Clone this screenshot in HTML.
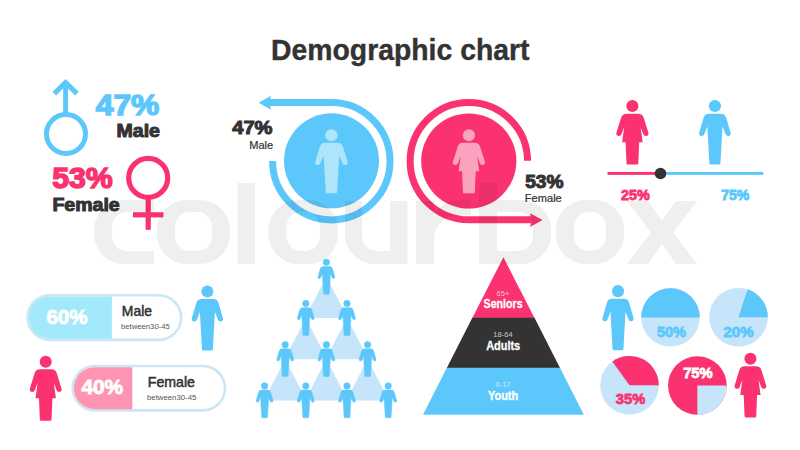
<!DOCTYPE html>
<html>
<head>
<meta charset="utf-8">
<title>Demographic chart</title>
<style>
html,body{margin:0;padding:0;background:#fff;}
body{width:800px;height:450px;overflow:hidden;font-family:"Liberation Sans",sans-serif;}
svg{display:block;}
text{font-family:"Liberation Sans",sans-serif;}
.b{font-weight:bold;}
</style>
</head>
<body>
<svg width="800" height="450" viewBox="0 0 800 450">
<defs>
  <g id="man">
    <circle cx="0" cy="6.2" r="6.1"/>
    <path d="M -6,13.9 Q -10.2,13.9 -11.4,18.4 L -15.7,33.4 Q -16.3,36 -13.9,36.6 Q -11.5,37 -10.6,34.8 L -7.6,27 L -5.5,64.6 Q -5.4,65.8 -4.2,65.8 L 4.2,65.8 Q 5.4,65.8 5.5,64.6 L 7.6,27 L 10.6,34.8 Q 11.5,37 13.9,36.6 Q 16.3,36 15.7,33.4 L 11.4,18.4 Q 10.2,13.9 6,13.9 Z"/>
  </g>
  <g id="woman">
    <circle cx="0" cy="6.2" r="6.1"/>
    <path d="M -5.5,13.9 Q -10.2,13.9 -11.4,18.4 L -16,33.4 Q -16.6,36 -14.2,36.6 Q -11.8,37 -10.9,34.8 L -8.2,27.5 L -10.3,43 L -6.8,43 L -5.9,64.6 Q -5.8,65.8 -4.6,65.8 L 4.6,65.8 Q 5.8,65.8 5.9,64.6 L 6.8,43 L 10.3,43 L 8.2,27.5 L 10.9,34.8 Q 11.8,37 14.2,36.6 Q 16.6,36 16,33.4 L 11.4,18.4 Q 10.2,13.9 5.5,13.9 Z"/>
  </g>
</defs>
<rect width="800" height="450" fill="#ffffff"/>

<!-- title -->
<text class="b" x="271" y="59.8" font-size="30" fill="#333333" stroke="#333333" stroke-width="0.4" textLength="258.5" lengthAdjust="spacingAndGlyphs">Demographic chart</text>

<!-- top-left gender symbols -->
<g fill="none" stroke="#5cc7fb" stroke-width="5">
  <circle cx="66" cy="134" r="19.5"/>
  <path d="M65.6,115 L65.6,83"/>
  <path d="M54.3,93.6 L65.6,82.4 L76.9,93.6" stroke-linejoin="miter"/>
</g>
<text class="b" x="95.8" y="115" font-size="30" fill="#5cc7fb" stroke="#5cc7fb" stroke-width="1.5" textLength="63.5" lengthAdjust="spacingAndGlyphs">47%</text>
<text class="b" x="116.5" y="137.3" font-size="18.5" fill="#333333" stroke="#333333" stroke-width="1" textLength="43.5" lengthAdjust="spacingAndGlyphs">Male</text>

<g fill="none" stroke="#fa3370" stroke-width="5.2">
  <circle cx="148.2" cy="177.9" r="19.5"/>
  <path d="M148.2,197 L148.2,229.8"/>
  <path d="M133,214.8 L163.4,214.8"/>
</g>
<text class="b" x="52.2" y="188.3" font-size="30" fill="#fa3370" stroke="#fa3370" stroke-width="1.5" textLength="60.6" lengthAdjust="spacingAndGlyphs">53%</text>
<text class="b" x="52.4" y="211.3" font-size="18.5" fill="#333333" stroke="#333333" stroke-width="1" textLength="67.3" lengthAdjust="spacingAndGlyphs">Female</text>

<!-- blue circular arrow -->
<circle cx="331.5" cy="160.8" r="47.5" fill="#5cc7fb"/>
<path d="M272.6,161 A58.7,58.7 0 1 0 331.3,102.5 L268,102.5" fill="none" stroke="#5cc7fb" stroke-width="7"/>
<path d="M258.6,102.7 L271,95.8 L269.3,102.7 L271,109.7 Z" fill="#5cc7fb"/>
<use href="#man" transform="translate(331.4,129.2) scale(1.03,0.975)" fill="#ade5fb"/>
<text class="b" x="232.2" y="134" font-size="18" fill="#333333" stroke="#333333" stroke-width="1" textLength="40.3" lengthAdjust="spacingAndGlyphs">47%</text>
<text x="249.2" y="148.6" font-size="10.7" fill="#333333" stroke="#333333" stroke-width="0.2" textLength="24" lengthAdjust="spacingAndGlyphs">Male</text>

<!-- pink circular arrow -->
<circle cx="468.8" cy="161" r="47.6" fill="#fa3370"/>
<path d="M527.55,160.8 A58.7,58.7 0 1 0 468.85,219.8 L532,219.8" fill="none" stroke="#fa3370" stroke-width="7"/>
<path d="M542.6,220 L530,213.2 L531.7,220 L530,227 Z" fill="#fa3370"/>
<use href="#woman" transform="translate(468.9,129.2) scale(1.0,0.975)" fill="#faa3be"/>
<text class="b" x="525.2" y="188" font-size="18" fill="#333333" stroke="#333333" stroke-width="1" textLength="38.3" lengthAdjust="spacingAndGlyphs">53%</text>
<text x="524.8" y="202.4" font-size="10.7" fill="#333333" stroke="#333333" stroke-width="0.2" textLength="37" lengthAdjust="spacingAndGlyphs">Female</text>

<!-- slider -->
<use href="#woman" transform="translate(632.4,100) scale(1,0.982)" fill="#fa3370"/>
<use href="#man" transform="translate(714.9,100) scale(1,0.982)" fill="#5cc7fb"/>
<rect x="607.5" y="171.95" width="53" height="2.9" fill="#fa3370"/>
<rect x="660" y="171.95" width="103.3" height="2.9" fill="#5cc7fb"/>
<circle cx="660.5" cy="173.5" r="5.8" fill="#333333"/>
<text class="b" x="621" y="199.7" font-size="14.3" fill="#fa3370" stroke="#fa3370" stroke-width="0.9" textLength="28.6" lengthAdjust="spacingAndGlyphs">25%</text>
<text class="b" x="721.2" y="199.7" font-size="14.3" fill="#5cc7fb" stroke="#5cc7fb" stroke-width="0.9" textLength="28.2" lengthAdjust="spacingAndGlyphs">75%</text>

<!-- pills -->
<g>
  <rect x="27.7" y="295.2" width="153.4" height="44.7" rx="22.3" fill="#ffffff" stroke="#cde6f6" stroke-width="2.6"/>
  <path d="M50,296.4 L111.9,296.4 L111.9,338.7 L50,338.7 A21.15,21.15 0 0 1 50,296.4 Z" fill="#a2e9fb"/>
  <text class="b" x="46.4" y="324.3" font-size="19.5" fill="#ffffff" stroke="#ffffff" stroke-width="0.8" textLength="41.2" lengthAdjust="spacingAndGlyphs">60%</text>
  <text x="121.8" y="316.3" font-size="14.2" fill="#333333" stroke="#333333" stroke-width="0.5" textLength="30.2" lengthAdjust="spacingAndGlyphs">Male</text>
  <text x="121" y="328.8" font-size="7.5" fill="#555" textLength="48.8" lengthAdjust="spacingAndGlyphs">between30-45</text>
</g>
<use href="#man" transform="translate(207.4,285.3) scale(0.99)" fill="#5cc7fb"/>

<g>
  <rect x="72.7" y="366" width="152.3" height="44.4" rx="22.2" fill="#ffffff" stroke="#cde6f6" stroke-width="2.6"/>
  <path d="M94.9,367.2 L132.3,367.2 L132.3,409.2 L94.9,409.2 A21,21 0 0 1 94.9,367.2 Z" fill="#fe94b2"/>
  <text class="b" x="81.4" y="394.2" font-size="19.5" fill="#ffffff" stroke="#ffffff" stroke-width="0.8" textLength="41.8" lengthAdjust="spacingAndGlyphs">40%</text>
  <text x="147.8" y="386.6" font-size="14.2" fill="#333333" stroke="#333333" stroke-width="0.5" textLength="47.2" lengthAdjust="spacingAndGlyphs">Female</text>
  <text x="147" y="399.5" font-size="7.5" fill="#555" textLength="49.3" lengthAdjust="spacingAndGlyphs">between30-45</text>
</g>
<use href="#woman" transform="translate(45.7,355.6) scale(0.99)" fill="#fa3370"/>

<!-- people pyramid -->
<g fill="#c6e4fa">
  <path d="M326.4,276.8 L305.0,318.0 L347.8,318.0 Z"/>
  <path d="M305.8,318.0 L284.4,359.2 L327.2,359.2 Z"/>
  <path d="M347.0,318.0 L325.6,359.2 L368.4,359.2 Z"/>
  <path d="M285.2,359.2 L263.8,400.4 L306.6,400.4 Z"/>
  <path d="M326.4,359.2 L305.0,400.4 L347.8,400.4 Z"/>
  <path d="M367.6,359.2 L346.2,400.4 L389.0,400.4 Z"/>
</g>
<g fill="#5cc7fb" stroke="#5cc7fb" stroke-width="0.9">
  <use href="#man" transform="translate(326.4,259) scale(0.535)"/>
  <use href="#man" transform="translate(305.8,300.2) scale(0.535)"/>
  <use href="#man" transform="translate(347,300.2) scale(0.535)"/>
  <use href="#man" transform="translate(285.2,341.4) scale(0.535)"/>
  <use href="#man" transform="translate(326.4,341.4) scale(0.535)"/>
  <use href="#man" transform="translate(367.6,341.4) scale(0.535)"/>
  <use href="#man" transform="translate(264.6,382.6) scale(0.535)"/>
  <use href="#man" transform="translate(305.8,382.6) scale(0.535)"/>
  <use href="#man" transform="translate(347,382.6) scale(0.535)"/>
  <use href="#man" transform="translate(388.2,382.6) scale(0.535)"/>
</g>

<!-- age pyramid -->
<g>
  <path d="M503.4,257.2 L472.3,318.1 L534.5,318.1 Z" fill="#fa3370"/>
  <path d="M472.3,317.8 L534.5,317.8 L560.0,368.1 L446.8,368.1 Z" fill="#333333"/>
  <path d="M446.8,367.8 L560.0,367.8 L583.8,414.7 L423.0,414.7 Z" fill="#5cc7fb"/>
  <text x="503" y="296.2" font-size="7.6" fill="#fbc0d2" text-anchor="middle">65+</text>
  <text class="b" x="483.6" y="308.3" font-size="12.3" fill="#ffffff" stroke="#ffffff" stroke-width="0.3" textLength="39" lengthAdjust="spacingAndGlyphs">Seniors</text>
  <text x="503" y="336.5" font-size="7.6" fill="#c8c8c8" text-anchor="middle">18-64</text>
  <text class="b" x="486.2" y="349.5" font-size="12.3" fill="#ffffff" stroke="#ffffff" stroke-width="0.3" textLength="34" lengthAdjust="spacingAndGlyphs">Adults</text>
  <text x="503" y="386.5" font-size="7.6" fill="#c9ecfc" text-anchor="middle">0-17</text>
  <text class="b" x="488.1" y="399.5" font-size="12.3" fill="#ffffff" stroke="#ffffff" stroke-width="0.3" textLength="30" lengthAdjust="spacingAndGlyphs">Youth</text>
</g>

<!-- pies -->
<use href="#man" transform="translate(618,285) scale(0.99)" fill="#5cc7fb"/>
<g>
  <circle cx="670.5" cy="317.2" r="29.3" fill="#c6e4fa"/>
  <path d="M641.2,317.5 A29.3,29.3 0 0 1 699.8,317.5 Z" fill="#5cc7fb"/>
  <text class="b" x="657" y="337" font-size="14.3" fill="#5cc7fb" stroke="#5cc7fb" stroke-width="0.8" textLength="29" lengthAdjust="spacingAndGlyphs">50%</text>
</g>
<g>
  <circle cx="738.5" cy="317.2" r="29.3" fill="#c6e4fa"/>
  <path d="M738.5,317.2 L767.8,317.2 A29.3,29.3 0 0 0 747.6,289.3 Z" fill="#5cc7fb"/>
  <text class="b" x="723.5" y="337" font-size="14.3" fill="#5cc7fb" stroke="#5cc7fb" stroke-width="0.8" textLength="30" lengthAdjust="spacingAndGlyphs">20%</text>
</g>
<g>
  <circle cx="629.5" cy="385.2" r="29.3" fill="#c6e4fa"/>
  <path d="M629.5,385.2 L658.8,385.2 A29.3,29.3 0 0 0 612.3,361.5 Z" fill="#fa3370"/>
  <text class="b" x="615.8" y="404.3" font-size="14.3" fill="#fa3370" stroke="#fa3370" stroke-width="0.8" textLength="29.4" lengthAdjust="spacingAndGlyphs">35%</text>
</g>
<g>
  <circle cx="697.4" cy="385.5" r="29.35" fill="#fa3370"/>
  <path d="M697.4,385.5 L726.8,385.5 A29.35,29.35 0 0 1 697.4,414.9 Z" fill="#c6e4fa"/>
  <text class="b" x="683.2" y="377.7" font-size="14.3" fill="#ffffff" stroke="#ffffff" stroke-width="0.8" textLength="29.4" lengthAdjust="spacingAndGlyphs">75%</text>
</g>
<use href="#woman" transform="translate(750.4,352.6) scale(0.985)" fill="#fa3370"/>

<!-- watermark -->
<g id="wm" fill="#000000" opacity="0.058">
  <path d="M154,200 L124,200 A30,30 0 0 0 94,230 L94,234 A30,30 0 0 0 124,264 L154,264 L154,251 L126,251 A14,15 0 0 1 112,236 L112,227 A14,15 0 0 1 126,212 L154,212 Z"/>
  <path fill-rule="evenodd" d="M187.0,200 L200.0,200 A30,30 0 0 1 230.0,230 L230.0,234 A30,30 0 0 1 200.0,264 L187.0,264 A30,30 0 0 1 157.0,234 L157.0,230 A30,30 0 0 1 187.0,200 Z M189.0,212 L198.0,212 A14,15 0 0 1 212.0,227 L212.0,236 A14,15 0 0 1 198.0,251 L189.0,251 A14,15 0 0 1 175.0,236 L175.0,227 A14,15 0 0 1 189.0,212 Z"/>
  <rect x="237.5" y="183" width="17.5" height="81"/>
  <path fill-rule="evenodd" d="M298.5,200 L308.0,200 A30,30 0 0 1 338.0,230 L338.0,234 A30,30 0 0 1 308.0,264 L298.5,264 A30,30 0 0 1 268.5,234 L268.5,230 A30,30 0 0 1 298.5,200 Z M300.5,212 L306.0,212 A14,15 0 0 1 320.0,227 L320.0,236 A14,15 0 0 1 306.0,251 L300.5,251 A14,15 0 0 1 286.5,236 L286.5,227 A14,15 0 0 1 300.5,212 Z"/>
  <path d="M345,201 L362,201 L362,236 A14,15 0 0 0 376,251 L390,251 L390,201 L407.5,201 L407.5,264 L375,264 A30,30 0 0 1 345,234 Z"/>
  <path d="M416,201 L434,201 L434,218 A24,22 0 0 1 456,200.5 L471,200.5 L471,215 L458,215 A24,24 0 0 0 434,239 L434,264 L416,264 Z"/>
  <path fill-rule="evenodd" d="M479,183 L497,183 L497,200 L521,200 A30,30 0 0 1 551,230 L551,234 A30,30 0 0 1 521,264 L479,264 Z M497,212 L519,212 A14,15 0 0 1 533,227 L533,236 A14,15 0 0 1 519,251 L497,251 Z"/>
  <path fill-rule="evenodd" d="M586.0,200 L594.0,200 A30,30 0 0 1 624.0,230 L624.0,234 A30,30 0 0 1 594.0,264 L586.0,264 A30,30 0 0 1 556.0,234 L556.0,230 A30,30 0 0 1 586.0,200 Z M588.0,212 L592.0,212 A14,15 0 0 1 606.0,227 L606.0,236 A14,15 0 0 1 592.0,251 L588.0,251 A14,15 0 0 1 574.0,236 L574.0,227 A14,15 0 0 1 588.0,212 Z"/>
  <path d="M627,201 L648,201 L662,221 L676,201 L697,201 L673,232.5 L697,264 L676,264 L662,244 L648,264 L627,264 L651,232.5 Z"/>
</g>
</svg>
</body>
</html>
